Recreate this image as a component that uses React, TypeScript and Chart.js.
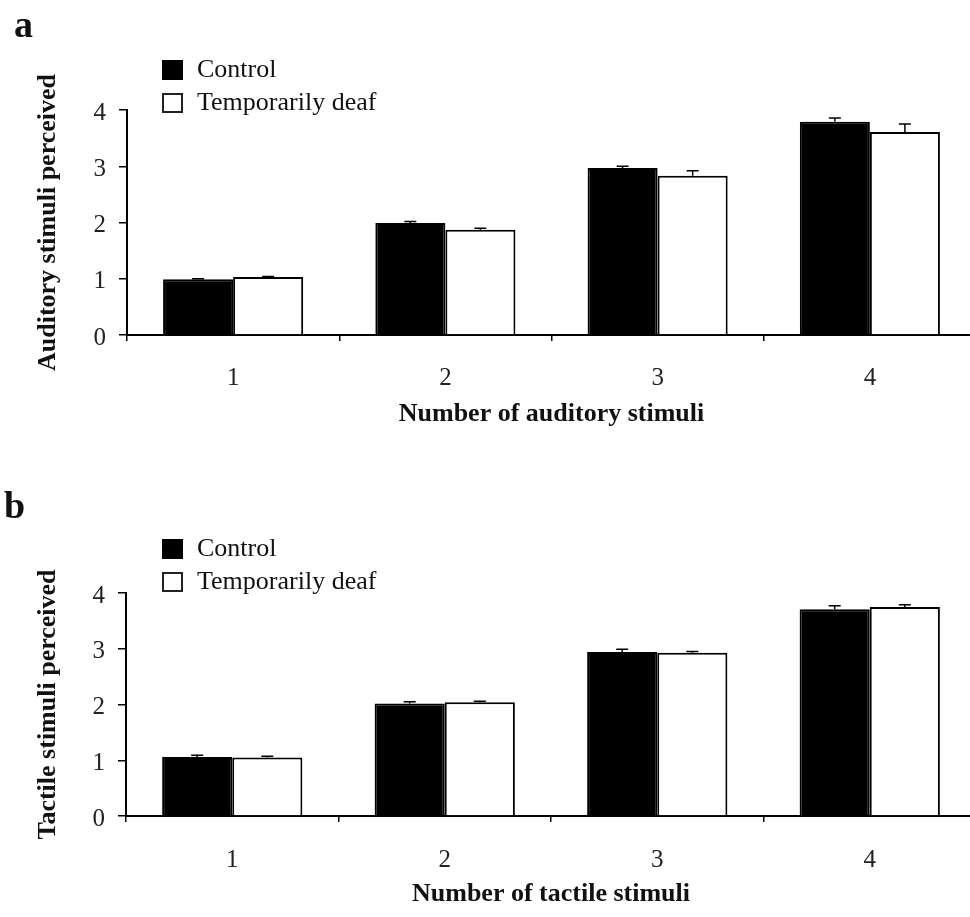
import React, { useEffect, useRef } from "react";
import { Chart, registerables } from "chart.js";

Chart.register(...registerables);

// ---- data ----
const categories = ["1", "2", "3", "4"];
const yTicks = [0, 1, 2, 3, 4];
const seriesNames = ["Control", "Temporarily deaf"];

const auditoryControl = [0.99, 1.99, 2.97, 3.79];
const auditoryControlErr = [0.01, 0.03, 0.03, 0.07];
const auditoryDeaf = [1.03, 1.87, 2.83, 3.61];
const auditoryDeafErr = [0.01, 0.03, 0.09, 0.14];

const tactileControl = [1.06, 2.02, 2.94, 3.71];
const tactileControlErr = [0.03, 0.03, 0.05, 0.06];
const tactileDeaf = [1.05, 2.04, 2.93, 3.75];
const tactileDeafErr = [0.02, 0.02, 0.02, 0.04];

const FONT = "'Liberation Serif', 'Times New Roman', serif";

const errorBarPlugin = {
  id: "errorBars",
  afterDatasetsDraw(chart: any) {
    const ctx = chart.ctx;
    const yScale = chart.scales.y;
    chart.data.datasets.forEach((ds: any, i: number) => {
      const meta = chart.getDatasetMeta(i);
      const errs: number[] = ds.errors || [];
      meta.data.forEach((bar: any, j: number) => {
        const v = ds.data[j];
        const e = errs[j] || 0;
        const yTop = yScale.getPixelForValue(v + e);
        const yBase = yScale.getPixelForValue(v);
        ctx.save();
        ctx.strokeStyle = "#000";
        ctx.lineWidth = 1.5;
        ctx.beginPath();
        ctx.moveTo(bar.x, yBase);
        ctx.lineTo(bar.x, yTop);
        ctx.moveTo(bar.x - 6, yTop);
        ctx.lineTo(bar.x + 6, yTop);
        ctx.stroke();
        ctx.restore();
      });
    });
  },
};

type PanelProps = {
  xTitle: string;
  yTitle: string;
  control: number[];
  controlErr: number[];
  deaf: number[];
  deafErr: number[];
  top: number;
  height: number;
  padTop: number;
  xScaleHeight: number;
  yScaleWidth: number;
  xTickPad: number;
  xTitlePad: number;
};

function Panel(p: PanelProps) {
  const ref = useRef<HTMLCanvasElement | null>(null);
  useEffect(() => {
    if (!ref.current) return;
    const chart = new Chart(ref.current, {
      type: "bar",
      data: {
        labels: categories,
        datasets: [
          {
            label: seriesNames[0],
            data: p.control,
            errors: p.controlErr,
            backgroundColor: "#000",
            borderColor: "#000",
            borderWidth: 2,
            categoryPercentage: 0.66,
            barPercentage: 1.0,
          } as any,
          {
            label: seriesNames[1],
            data: p.deaf,
            errors: p.deafErr,
            backgroundColor: "#fff",
            borderColor: "#000",
            borderWidth: 2,
            categoryPercentage: 0.66,
            barPercentage: 1.0,
          } as any,
        ],
      },
      options: {
        responsive: false,
        animation: false,
        layout: { padding: { top: p.padTop, right: 4, left: 0, bottom: 0 } },
        plugins: {
          legend: { display: false },
          tooltip: { enabled: false },
          title: { display: false },
        },
        scales: {
          x: {
            type: "category",
            offset: true,
            grid: {
              display: true,
              drawOnChartArea: false,
              drawTicks: true,
              tickLength: 6,
              color: "#000",
              lineWidth: 1.5,
              offset: true,
            },
            border: { display: true, color: "#000", width: 2 },
            ticks: {
              color: "#222",
              font: { family: FONT, size: 25 },
              padding: p.xTickPad,
              maxRotation: 0,
            },
            title: {
              display: true,
              text: p.xTitle,
              color: "#111",
              font: { family: FONT, size: 26, weight: "bold" },
              padding: { top: 0, bottom: p.xTitlePad },
            },
            afterFit: (s: any) => {
              s.height = p.xScaleHeight;
            },
          },
          y: {
            type: "linear",
            min: 0,
            max: 4,
            afterBuildTicks: (s: any) => {
              s.ticks = yTicks.map((v) => ({ value: v }));
            },
            ticks: {
              color: "#222",
              font: { family: FONT, size: 25 },
              padding: 13,
              labelOffset: 3,
            },
            grid: {
              display: true,
              drawOnChartArea: false,
              drawTicks: true,
              tickLength: 8,
              color: "#000",
              lineWidth: 1.5,
            },
            border: { display: true, color: "#000", width: 2 },
            title: {
              display: true,
              text: p.yTitle,
              color: "#111",
              font: { family: FONT, size: 26, weight: "bold" },
              padding: { top: 33, bottom: 0 },
            },
            afterFit: (s: any) => {
              s.width = p.yScaleWidth;
            },
          },
        },
      } as any,
      plugins: [errorBarPlugin],
    });
    return () => chart.destroy();
  }, []);
  return (
    <canvas
      ref={ref}
      width={980}
      height={p.height}
      style={{
        position: "absolute",
        left: 0,
        top: p.top,
        width: 980,
        height: p.height,
        display: "block",
      }}
    />
  );
}

const textStyle: React.CSSProperties = {
  position: "absolute",
  fontFamily: FONT,
  fontSize: 26,
  lineHeight: "26px",
  color: "#111",
  whiteSpace: "nowrap",
};

function Legend({ top }: { top: number }) {
  return (
    <>
      <div
        style={{
          position: "absolute",
          left: 162,
          top: top,
          width: 21,
          height: 20,
          background: "#000",
        }}
      />
      <div style={{ ...textStyle, left: 197, top: top - 4 }}>{seriesNames[0]}</div>
      <div
        style={{
          position: "absolute",
          left: 162,
          top: top + 33,
          width: 21,
          height: 20,
          boxSizing: "border-box",
          border: "2px solid #222",
          background: "#fff",
        }}
      />
      <div style={{ ...textStyle, left: 197, top: top + 29 }}>{seriesNames[1]}</div>
    </>
  );
}

const letterStyle: React.CSSProperties = {
  position: "absolute",
  fontFamily: FONT,
  fontWeight: "bold",
  fontSize: 38,
  lineHeight: "38px",
  color: "#111",
};

export default function App() {
  useEffect(() => {
    document.body.style.margin = "0";
    document.body.style.background = "#fff";
  }, []);
  return (
    <div
      style={{
        position: "relative",
        width: 970,
        height: 917,
        overflow: "hidden",
        background: "#fff",
      }}
    >
      <Panel
        xTitle="Number of auditory stimuli"
        yTitle="Auditory stimuli perceived"
        control={auditoryControl}
        controlErr={auditoryControlErr}
        deaf={auditoryDeaf}
        deafErr={auditoryDeafErr}
        top={0}
        height={458}
        padTop={110}
        xScaleHeight={123}
        yScaleWidth={127}
        xTickPad={22}
        xTitlePad={28}
      />
      <Panel
        xTitle="Number of tactile stimuli"
        yTitle="Tactile stimuli perceived"
        control={tactileControl}
        controlErr={tactileControlErr}
        deaf={tactileDeaf}
        deafErr={tactileDeafErr}
        top={458}
        height={459}
        padTop={135}
        xScaleHeight={101}
        yScaleWidth={126}
        xTickPad={23}
        xTitlePad={7}
      />
      <div style={{ ...letterStyle, left: 14, top: 5 }}>a</div>
      <div style={{ ...letterStyle, left: 4, top: 486 }}>b</div>
      <Legend top={60} />
      <Legend top={539} />
    </div>
  );
}
